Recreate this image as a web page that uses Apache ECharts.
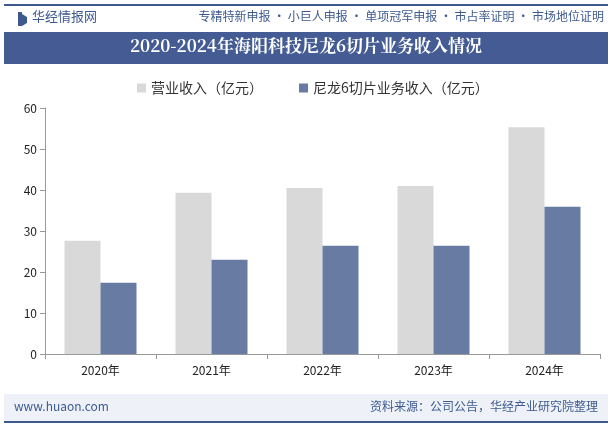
<!DOCTYPE html>
<html><head><meta charset="utf-8">
<script src="https://cdn.jsdelivr.net/npm/echarts@6/dist/echarts.min.js"></script>
<style>body{margin:0}#c{width:612px;height:426px}</style>
</head><body><div id="c"></div>
<script>
const years = ['2020年', '2021年', '2022年', '2023年', '2024年'];
const revenue = [27.6, 39.3, 40.5, 41.0, 55.3];
const nylon = [17.4, 23.0, 26.4, 26.4, 35.9];
const font = '"Noto Sans CJK SC", sans-serif';

const chart = echarts.init(document.getElementById('c'));
chart.setOption({
  animation: false,
  graphic: [
    { type: 'rect', shape: { x: 4, y: 4, width: 604, height: 2 }, style: { fill: '#3d5a8f' } },
    { type: 'rect', shape: { x: 18, y: 12, width: 4, height: 14 }, style: { fill: '#3d5a8f' } },
    { type: 'polygon', shape: { points: [[22, 14], [27, 17], [27, 23], [22, 26]] }, style: { fill: '#3d5a8f' } },
    { type: 'text', left: 32, top: 10, style: { text: '华经情报网', fill: '#3d5a8f', font: '13px ' + font } },
    { type: 'text', right: 8, top: 10, style: { text: '专精特新申报 · 小巨人申报 · 单项冠军申报 · 市占率证明 · 市场地位证明', fill: '#3d5a8f', font: '12px ' + font } },
    { type: 'rect', shape: { x: 4, y: 32, width: 604, height: 32 }, style: { fill: '#445c93' } },
    { type: 'text', left: 'center', top: 37, style: { text: '2020-2024年海阳科技尼龙6切片业务收入情况', fill: '#fff', font: 'bold 17px "Noto Serif CJK SC", ' + font } },
    { type: 'rect', shape: { x: 4, y: 394, width: 604, height: 28 }, style: { fill: '#eef2f8' } },
    { type: 'rect', shape: { x: 4, y: 421, width: 604, height: 2 }, style: { fill: '#3d5a8f' } },
    { type: 'text', left: 14, top: 400, style: { text: 'www.huaon.com', fill: '#3d5a8f', font: '12px ' + font } },
    { type: 'text', right: 14, top: 400, style: { text: '资料来源：公司公告，华经产业研究院整理', fill: '#3d5a8f', font: '12px ' + font } }
  ],
  legend: {
    top: 76, left: 132, itemWidth: 9, itemHeight: 9, itemGap: 36, icon: 'rect',
    textStyle: { fontSize: 14, color: '#333', fontFamily: font }
  },
  grid: { left: 45, right: 12, top: 108, bottom: 72 },
  xAxis: {
    type: 'category', data: years,
    axisLine: { lineStyle: { color: '#999' } },
    axisTick: { show: true, lineStyle: { color: '#999' } },
    axisLabel: { color: '#222', fontSize: 12, fontFamily: font, margin: 10 }
  },
  yAxis: {
    type: 'value', min: 0, max: 60, interval: 10,
    axisLine: { show: true, lineStyle: { color: '#999' } },
    axisTick: { show: true, lineStyle: { color: '#999' } },
    splitLine: { show: false },
    axisLabel: { color: '#222', fontSize: 12, fontFamily: font }
  },
  series: [
    { name: '营业收入（亿元）', type: 'bar', data: revenue, barWidth: 36, barGap: '0%', itemStyle: { color: '#d9d9d9' } },
    { name: '尼龙6切片业务收入（亿元）', type: 'bar', data: nylon, barWidth: 36, itemStyle: { color: '#687ca3' } }
  ]
});
</script></body></html>
